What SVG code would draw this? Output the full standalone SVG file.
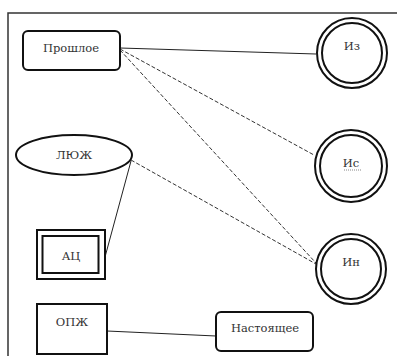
<svg xmlns="http://www.w3.org/2000/svg" width="397" height="356" viewBox="0 0 397 356">
<style>
.t{font-family:'DejaVu Serif',serif;font-size:11.5px;fill:#333;text-anchor:middle;dominant-baseline:central}
.s{fill:#fff;stroke:#111;stroke-width:2}
.c{fill:none;stroke:#111;stroke-width:2}
.solid{stroke:#222;stroke-width:1;fill:none}
.dash{stroke:#333;stroke-width:1;fill:none;stroke-dasharray:4 2}
</style>
<rect width="397" height="356" fill="#fff"/>
<path d="M8 356 V13 H397" fill="none" stroke="#333" stroke-width="1.5"/>
<g id="connectors">
<line class="solid" x1="120" y1="48" x2="316" y2="54"/>
<line class="dash" x1="120" y1="49" x2="314" y2="155"/>
<line class="dash" x1="120" y1="50" x2="316" y2="263"/>
<line class="dash" x1="131" y1="160" x2="316" y2="264"/>
<line class="solid" x1="131" y1="161" x2="105" y2="257"/>
<line class="solid" x1="107" y1="331" x2="216" y2="336"/>
</g>
<g id="proshloe">
<rect class="s" x="23" y="31" width="97" height="39" rx="5"/>
<text class="t" x="71" y="48">Прошлое</text>
</g>
<g id="iz">
<circle class="c" cx="352" cy="53" r="35"/>
<circle class="c" cx="352" cy="53" r="30"/>
<text class="t" x="352" y="46">Из</text>
</g>
<g id="is">
<circle class="c" cx="351" cy="166" r="36"/>
<circle class="c" cx="351" cy="166" r="31"/>
<text class="t" x="351" y="163">Ис</text>
<line x1="344" y1="170" x2="361" y2="170" stroke="#888" stroke-width="1" stroke-dasharray="1 1"/>
</g>
<g id="in">
<circle class="c" cx="351" cy="269" r="35"/>
<circle class="c" cx="351" cy="269" r="30"/>
<text class="t" x="351" y="262">Ин</text>
</g>
<g id="lyuzh">
<ellipse class="s" cx="74" cy="155" rx="58" ry="20"/>
<text class="t" x="74" y="155">ЛЮЖ</text>
</g>
<g id="ac">
<rect class="s" x="37" y="230" width="68" height="49"/>
<rect class="s" x="42.5" y="236" width="56" height="37"/>
<text class="t" x="71" y="256">АЦ</text>
</g>
<g id="opzh">
<rect class="s" x="37" y="304" width="70" height="50"/>
<text class="t" x="72" y="322">ОПЖ</text>
</g>
<g id="nastoyashchee">
<rect class="s" x="216" y="312" width="97" height="39" rx="5"/>
<text class="t" x="265" y="328">Настоящее</text>
</g>
</svg>
